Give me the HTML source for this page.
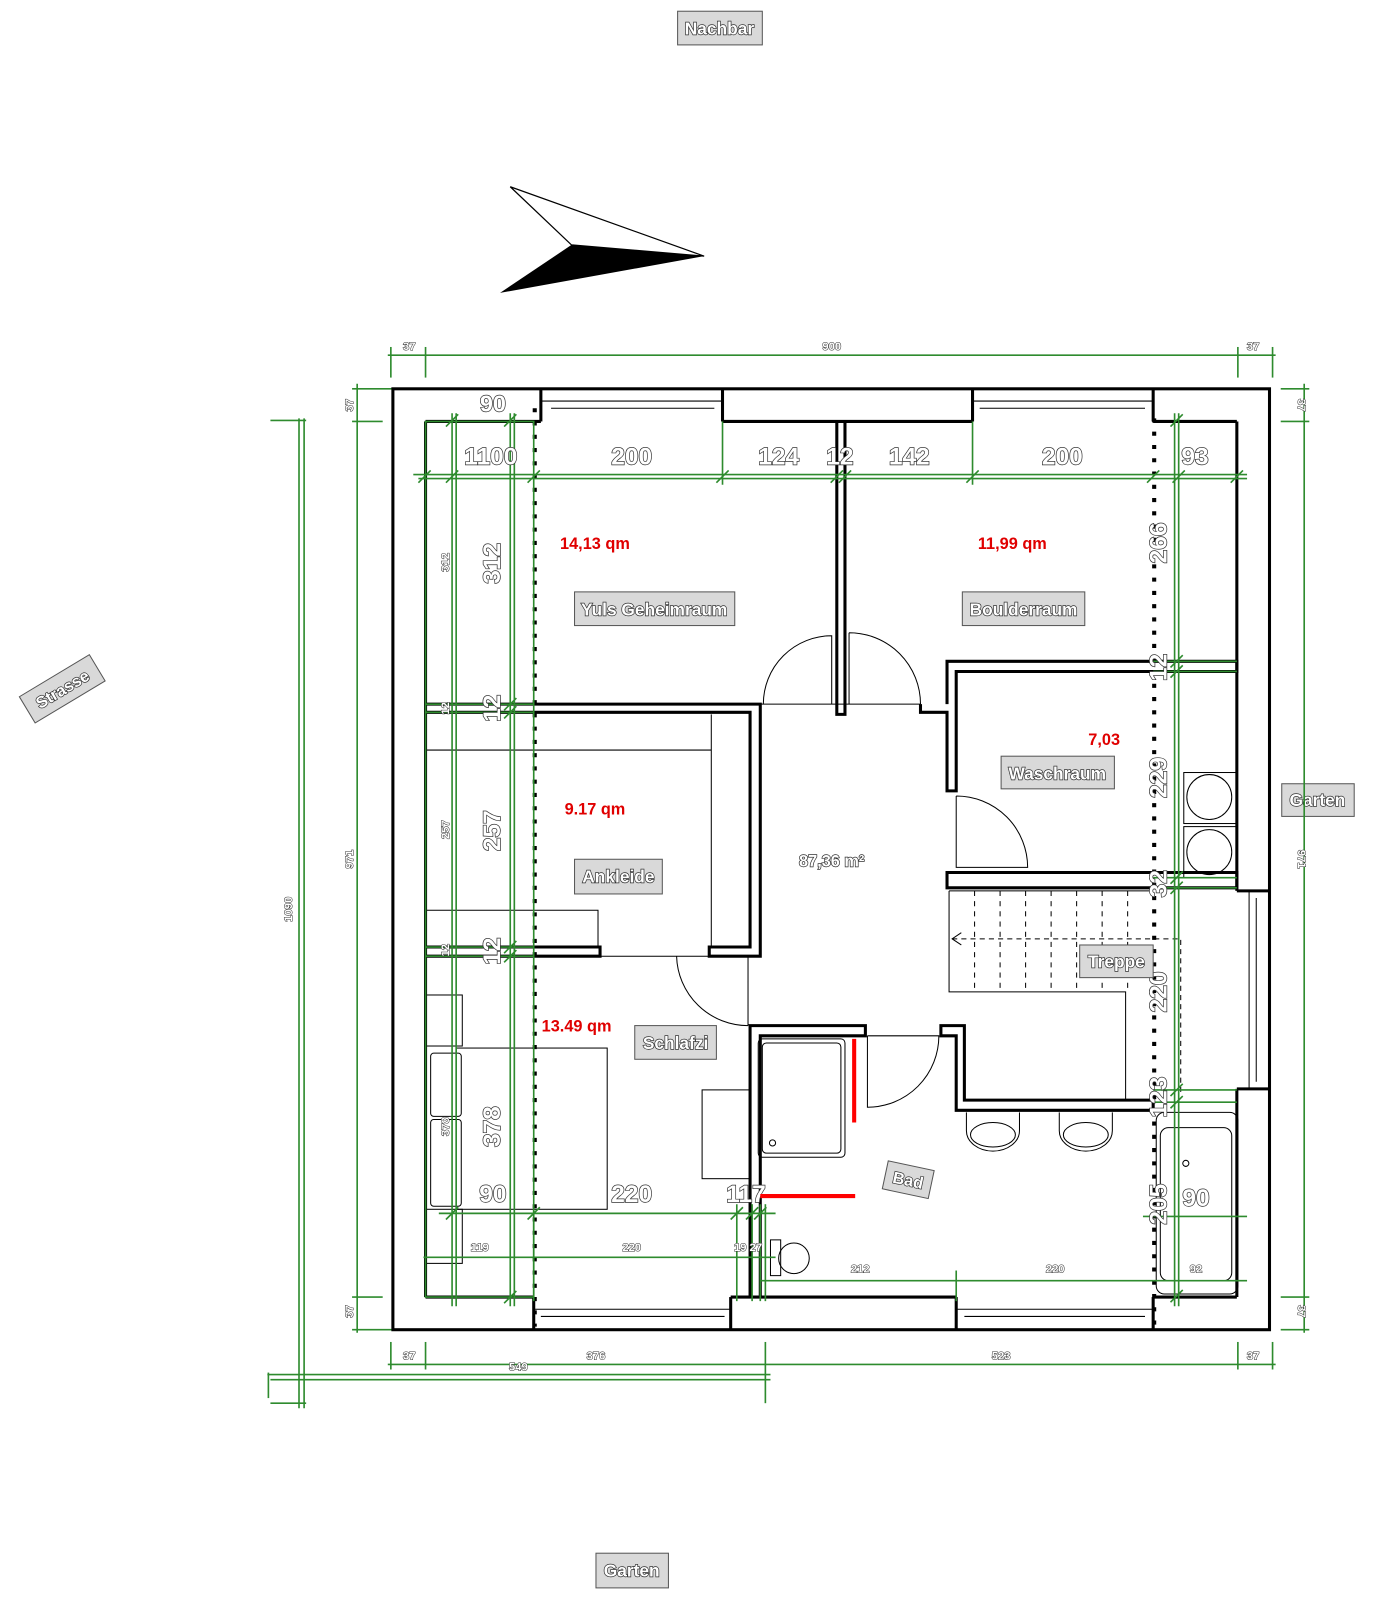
<!DOCTYPE html>
<html><head><meta charset="utf-8"><style>
html,body{margin:0;padding:0;background:#fff;overflow:hidden}
svg{display:block}
.o{font-family:"Liberation Sans",sans-serif;font-weight:bold;fill:#fff;stroke:#333;stroke-width:1.4;paint-order:stroke;text-anchor:middle}
.s{font-family:"Liberation Sans",sans-serif;font-weight:bold;fill:#fff;stroke:#333;stroke-width:1;paint-order:stroke;text-anchor:middle;font-size:11px}
.r{font-family:"Liberation Sans",sans-serif;font-weight:bold;fill:#e00000;font-size:16px;text-anchor:middle}
.lb{fill:#d9d9d9;stroke:#555;stroke-width:1}
.g{stroke:#2e8b2e;stroke-width:1.6;fill:none}
.w{stroke:#000;stroke-width:3;fill:none}
.t{stroke:#000;stroke-width:1;fill:none}
.d{stroke:#000;stroke-width:4;stroke-dasharray:4 9;fill:none}
</style></head><body>
<svg width="1373" height="1600" viewBox="0 0 1373 1600" xmlns="http://www.w3.org/2000/svg">
<g transform="scale(1.0205)">
<!-- compass -->
<polygon points="500,183 690,251 560,240" fill="#fff" stroke="#000" stroke-width="1.2"/>
<polygon points="560,240 690,251 490,287" fill="#000"/>

<rect class="lb" x="664" y="11" width="83" height="33"/><text class="o" x="705" y="34" font-size="17">Nachbar</text>
<rect class="lb" x="584" y="1522" width="71" height="34"/><text class="o" x="619" y="1545" font-size="17">Garten</text>
<rect class="lb" x="1256" y="768" width="71" height="32"/><text class="o" x="1291" y="790" font-size="17">Garten</text>
<g transform="translate(61,675) rotate(-31)"><rect class="lb" x="-40" y="-15" width="80" height="30"/><text class="o" x="0" y="6" font-size="16">Strasse</text></g>

<g class="g">
<line x1="380" y1="348" x2="1250" y2="348"/>
<line x1="383" y1="340" x2="383" y2="370"/><line x1="417" y1="340" x2="417" y2="370"/><line x1="1213" y1="340" x2="1213" y2="370"/><line x1="1247" y1="340" x2="1247" y2="370"/>
<line x1="350" y1="376" x2="350" y2="1306"/>
<line x1="345" y1="381" x2="385" y2="381"/><line x1="345" y1="413" x2="375" y2="413"/><line x1="345" y1="1271" x2="375" y2="1271"/><line x1="345" y1="1303" x2="385" y2="1303"/>
<line x1="1278" y1="376" x2="1278" y2="1306"/>
<line x1="1255" y1="381" x2="1283" y2="381"/><line x1="1255" y1="413" x2="1283" y2="413"/><line x1="1255" y1="1271" x2="1283" y2="1271"/><line x1="1255" y1="1303" x2="1283" y2="1303"/>
<line x1="380" y1="1337" x2="1250" y2="1337"/>
<line x1="383" y1="1315" x2="383" y2="1342"/><line x1="417" y1="1315" x2="417" y2="1342"/><line x1="750" y1="1315" x2="750" y2="1375"/><line x1="1213" y1="1315" x2="1213" y2="1342"/><line x1="1247" y1="1315" x2="1247" y2="1342"/>
<line x1="262" y1="1347" x2="755" y2="1347"/><line x1="265" y1="1352" x2="755" y2="1352"/>
<line x1="293" y1="410" x2="293" y2="1380"/><line x1="298" y1="410" x2="298" y2="1380"/>
<line x1="265" y1="412" x2="300" y2="412"/><line x1="265" y1="1375" x2="300" y2="1375"/><line x1="263" y1="1345" x2="263" y2="1370"/>
</g>
<text class="s" x="401" y="343">37</text><text class="s" x="815" y="343">900</text><text class="s" x="1228" y="343">37</text>
<text class="s" x="401" y="1332">37</text><text class="s" x="584" y="1332">376</text><text class="s" x="981" y="1332">523</text><text class="s" x="1228" y="1332">37</text>
<text class="s" x="508" y="1343">549</text>
<text class="s" transform="translate(346,397) rotate(-90)">37</text>
<text class="s" transform="translate(346,842) rotate(-90)">971</text>
<text class="s" transform="translate(346,1285) rotate(-90)">37</text>
<text class="s" transform="translate(1272,397) rotate(90)">37</text>
<text class="s" transform="translate(1272,842) rotate(90)">971</text>
<text class="s" transform="translate(1272,1285) rotate(90)">37</text>
<text class="s" transform="translate(286,891) rotate(-90)">1090</text>

<g class="w">
<rect x="385" y="381" width="859" height="922"/>
<line x1="417" y1="413" x2="530" y2="413"/><line x1="530" y1="381" x2="530" y2="413"/>
<line x1="708" y1="381" x2="708" y2="413"/><line x1="708" y1="413" x2="953" y2="413"/><line x1="953" y1="381" x2="953" y2="413"/>
<line x1="1130" y1="381" x2="1130" y2="413"/><line x1="1130" y1="413" x2="1212" y2="413"/>
<line x1="417" y1="413" x2="417" y2="1271"/>
<line x1="1212" y1="413" x2="1212" y2="873"/><line x1="1212" y1="873" x2="1244" y2="873"/>
<line x1="1212" y1="1067" x2="1244" y2="1067"/><line x1="1212" y1="1067" x2="1212" y2="1271"/>
<line x1="417" y1="1271" x2="523" y2="1271"/><line x1="523" y1="1271" x2="523" y2="1303"/>
<line x1="716" y1="1271" x2="716" y2="1303"/><line x1="716" y1="1271" x2="937" y2="1271"/><line x1="937" y1="1271" x2="937" y2="1303"/>
<line x1="1130" y1="1271" x2="1130" y2="1303"/><line x1="1130" y1="1271" x2="1212" y2="1271"/>
<path d="M820,413 V700 H828 V413"/>
<path d="M417,690 H745 V937 H695 V928 H735 V698 H417"/>
<path d="M417,937 H588 V928 H417"/>
<path d="M902,690 V698 H928 V775 H937 V658 H1212 V648 H928 V690"/>
<path d="M928,855 H1212 V870 H928 Z"/>
<path d="M735,1271 V1005 H848 V1015 H745 V1271"/>
<path d="M922,1005 H945 V1078 H1130 V1088 H937 V1015 H922 Z"/>
</g>
<g class="t">
<line x1="530" y1="393" x2="708" y2="393"/><line x1="540" y1="400" x2="700" y2="400"/>
<line x1="953" y1="393" x2="1130" y2="393"/><line x1="960" y1="400" x2="1122" y2="400"/>
<line x1="523" y1="1283" x2="716" y2="1283"/><line x1="530" y1="1290" x2="710" y2="1290"/>
<line x1="937" y1="1283" x2="1130" y2="1283"/><line x1="945" y1="1290" x2="1122" y2="1290"/>
<line x1="1224" y1="873" x2="1224" y2="1067"/><line x1="1231" y1="880" x2="1231" y2="1060"/>
</g>

<g class="t">
<path d="M748,690 A67,67 0 0 1 815,623 V690"/>
<path d="M832,620 V690 M832,620 A70,70 0 0 1 902,690"/>
<line x1="745" y1="690" x2="902" y2="690"/>
<path d="M937,780 V850 H1007 A70,70 0 0 0 937,780"/>
<path d="M663,937 A70,70 0 0 0 733,1005 M733,937 V1005"/>
<line x1="588" y1="937" x2="695" y2="937"/>
<path d="M850,1015 V1085 A70,70 0 0 0 920,1015 H850"/>
<path d="M930,873 H1130 M930,873 V972 H1103 V1078"/>
<path d="M955,873 V972 M980,873 V972 M1005,873 V972 M1030,873 V972 M1055,873 V972 M1080,873 V972 M1105,873 V972" stroke-dasharray="5 5"/>
<path d="M933,920 H1157 V1070" stroke-dasharray="5 4"/>
<path d="M942,914 L933,920 L942,926"/>
<path d="M417,735 H697 V928 M697,700 V928"/>
<path d="M417,892 H586 V928"/>
<rect x="417" y="975" width="36" height="50"/>
<rect x="447" y="1027" width="148" height="158"/>
<rect x="422" y="1032" width="30" height="62" rx="3"/><rect x="422" y="1097" width="30" height="85" rx="3"/>
<rect x="417" y="1185" width="36" height="53"/>
<rect x="688" y="1068" width="47" height="87"/>
<rect x="743" y="1018" width="85" height="116" rx="4"/><rect x="747" y="1022" width="77" height="108" rx="4"/>
<circle cx="757" cy="1120" r="3"/>
<path d="M947,1090 V1108 A26,20 0 0 0 999,1108 V1090"/><ellipse cx="973" cy="1112" rx="22" ry="12"/>
<path d="M1038,1090 V1108 A26,20 0 0 0 1090,1108 V1090"/><ellipse cx="1064" cy="1112" rx="22" ry="12"/>
<rect x="1133" y="1090" width="80" height="178" rx="8"/><rect x="1137" y="1105" width="70" height="150" rx="8"/>
<circle cx="1162" cy="1140" r="3"/>
<path d="M755,1215 H765 V1250 H755 Z"/><ellipse cx="778" cy="1233" rx="15" ry="15"/>
<rect x="1160" y="757" width="52" height="50"/><circle cx="1185" cy="781" r="22"/>
<rect x="1160" y="810" width="52" height="50"/><circle cx="1185" cy="835" r="22"/>
</g>

<line class="d" x1="524" y1="400" x2="524" y2="1300"/>
<line class="d" x1="1131" y1="410" x2="1131" y2="1300"/>

<g class="g">
<line x1="405" y1="465" x2="1222" y2="465"/><line x1="410" y1="469" x2="1222" y2="469"/>
<rect x="417" y="413" width="106" height="858"/>
<line x1="443" y1="405" x2="443" y2="1280"/><line x1="447" y1="405" x2="447" y2="1280"/>
<line x1="500" y1="405" x2="500" y2="1280"/><line x1="504" y1="405" x2="504" y2="1280"/>
<line x1="708" y1="413" x2="708" y2="475"/><line x1="953" y1="413" x2="953" y2="475"/>
<line x1="1155" y1="405" x2="1155" y2="1280"/><line x1="1151" y1="405" x2="1151" y2="1280"/>
<line x1="1130" y1="648" x2="1212" y2="648"/><line x1="1130" y1="658" x2="1212" y2="658"/>
<line x1="1130" y1="860" x2="1212" y2="860"/><line x1="1130" y1="870" x2="1212" y2="870"/>
<line x1="1130" y1="1068" x2="1212" y2="1068"/><line x1="1130" y1="1080" x2="1212" y2="1080"/>
<line x1="1120" y1="1192" x2="1222" y2="1192"/>
<line x1="1130" y1="1255" x2="1222" y2="1255"/>
<line x1="417" y1="690" x2="523" y2="690"/><line x1="417" y1="698" x2="523" y2="698"/>
<line x1="417" y1="928" x2="523" y2="928"/><line x1="417" y1="937" x2="523" y2="937"/>
<line x1="430" y1="1189" x2="760" y2="1189"/>
<line x1="415" y1="1232" x2="760" y2="1232"/>
<line x1="745" y1="1255" x2="1130" y2="1255"/>
<line x1="722" y1="1180" x2="722" y2="1275"/><line x1="737" y1="1180" x2="737" y2="1275"/><line x1="745" y1="1180" x2="745" y2="1275"/><line x1="750" y1="1180" x2="750" y2="1275"/>
<line x1="937" y1="1245" x2="937" y2="1275"/>
<line x1="523" y1="1180" x2="523" y2="1275"/>
</g>
<g stroke="#2e8b2e" stroke-width="1.6">
<path d="M410,473 l12,-12 M437,473 l12,-12 M517,473 l12,-12 M702,473 l12,-12 M814,473 l12,-12 M822,473 l12,-12 M947,473 l12,-12 M1124,473 l12,-12 M1149,473 l12,-12 M1206,473 l12,-12"/>
<path d="M437,418 l12,-12 M494,418 l12,-12 M494,696 l12,-12 M494,704 l12,-12 M494,934 l12,-12 M494,943 l12,-12 M494,1277 l12,-12"/>
<path d="M1147,654 l12,-12 M1147,664 l12,-12 M1147,866 l12,-12 M1147,876 l12,-12 M1147,1074 l12,-12 M1147,1086 l12,-12 M1147,1276 l12,-12 M1147,418 l12,-12"/>
<path d="M517,1195 l12,-12 M716,1195 l12,-12 M731,1195 l12,-12 M739,1195 l12,-12 M437,1195 l12,-12"/>
</g>

<text class="o" x="483" y="403" font-size="23">90</text>
<text class="o" x="481" y="455" font-size="24">1100</text>
<text class="o" x="619" y="455" font-size="24">200</text>
<text class="o" x="763" y="455" font-size="24">124</text>
<text class="o" x="823" y="455" font-size="24">12</text>
<text class="o" x="891" y="455" font-size="24">142</text>
<text class="o" x="1041" y="455" font-size="24">200</text>
<text class="o" x="1171" y="455" font-size="24">93</text>
<text class="s" transform="translate(440,551) rotate(-90)">312</text>
<text class="o" font-size="24" transform="translate(490,552) rotate(-90)">312</text>
<text class="s" transform="translate(440,694) rotate(-90)">12</text>
<text class="o" font-size="24" transform="translate(490,694) rotate(-90)">12</text>
<text class="s" transform="translate(440,813) rotate(-90)">257</text>
<text class="o" font-size="24" transform="translate(490,814) rotate(-90)">257</text>
<text class="s" transform="translate(440,931) rotate(-90)">12</text>
<text class="o" font-size="24" transform="translate(490,932) rotate(-90)">12</text>
<text class="s" transform="translate(440,1104) rotate(-90)">378</text>
<text class="o" font-size="24" transform="translate(490,1104) rotate(-90)">378</text>
<text class="o" x="483" y="1178" font-size="24">90</text>
<text class="o" x="619" y="1178" font-size="24">220</text>
<text class="o" x="731" y="1178" font-size="24">117</text>
<text class="s" x="470" y="1226">119</text>
<text class="s" x="619" y="1226">220</text>
<text class="s" x="733" y="1226">19 27</text>
<text class="s" x="843" y="1247">212</text>
<text class="s" x="1034" y="1247">220</text>
<text class="s" x="1172" y="1247">92</text>
<text class="o" x="1172" y="1182" font-size="24">90</text>
<text class="o" font-size="24" transform="translate(1143,532) rotate(-90)">266</text>
<text class="o" font-size="24" transform="translate(1143,654) rotate(-90)">12</text>
<text class="o" font-size="24" transform="translate(1143,762) rotate(-90)">229</text>
<text class="o" font-size="24" transform="translate(1143,866) rotate(-90)">32</text>
<text class="o" font-size="24" transform="translate(1143,972) rotate(-90)">220</text>
<text class="o" font-size="24" transform="translate(1143,1075) rotate(-90)">123</text>
<text class="o" font-size="24" transform="translate(1143,1180) rotate(-90)">205</text>

<text class="r" x="583" y="538">14,13 qm</text>
<text class="r" x="992" y="538">11,99 qm</text>
<text class="r" x="1082" y="730">7,03</text>
<text class="r" x="583" y="798">9.17 qm</text>
<text class="r" x="565" y="1011">13.49 qm</text>
<line x1="837" y1="1018" x2="837" y2="1100" stroke="#f00" stroke-width="4"/>
<line x1="745" y1="1172" x2="838" y2="1172" stroke="#f00" stroke-width="4"/>

<text class="o" x="815" y="849" font-size="16">87,36 m²</text>

<rect class="lb" x="563" y="580" width="157" height="33"/><text class="o" x="641" y="603" font-size="17">Yuls Geheimraum</text>
<rect class="lb" x="943" y="580" width="120" height="33"/><text class="o" x="1003" y="603" font-size="17">Boulderraum</text>
<rect class="lb" x="981" y="741" width="111" height="32"/><text class="o" x="1036" y="764" font-size="17">Waschraum</text>
<rect class="lb" x="563" y="842" width="86" height="34"/><text class="o" x="606" y="865" font-size="17">Ankleide</text>
<rect class="lb" x="622" y="1005" width="80" height="33"/><text class="o" x="662" y="1028" font-size="17">Schlafzi</text>
<rect class="lb" x="1058" y="926" width="72" height="32"/><text class="o" x="1094" y="948" font-size="17">Treppe</text>
<g transform="translate(890,1156) rotate(12)"><rect class="lb" x="-23" y="-14" width="46" height="28"/><text class="o" x="0" y="6" font-size="16">Bad</text></g>
</g>
</svg>
</body></html>
